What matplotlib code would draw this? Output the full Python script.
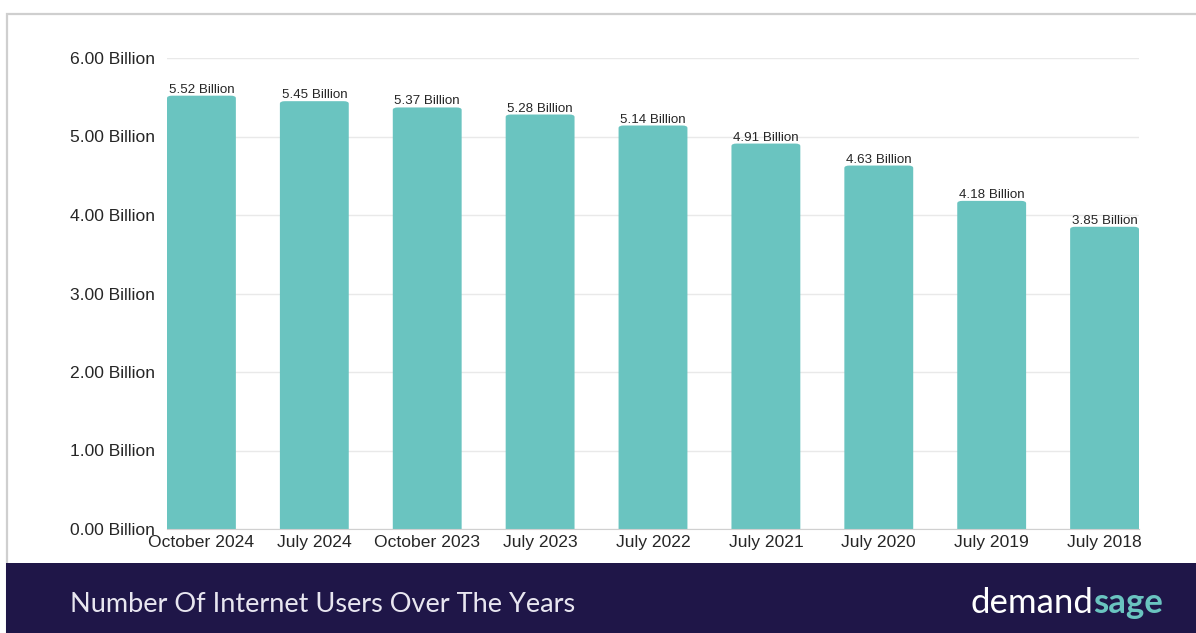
import matplotlib.pyplot as plt
from matplotlib.patches import FancyBboxPatch, Rectangle

periods = [
    "October 2024",
    "July 2024",
    "October 2023",
    "July 2023",
    "July 2022",
    "July 2021",
    "July 2020",
    "July 2019",
    "July 2018",
]
users_bn = [5.52, 5.45, 5.37, 5.28, 5.14, 4.91, 4.63, 4.18, 3.85]
y_ticks = [0, 1, 2, 3, 4, 5, 6]

teal = "#6ac4c0"
navy = "#1f1648"
text_col = "#262626"
font = ["Liberation Sans", "DejaVu Sans"]

plt.rcParams["font.family"] = font

fig = plt.figure(figsize=(11.96, 6.33), dpi=100)
fig.patch.set_facecolor("white")

# light frame and bottom banner
fig.add_artist(Rectangle((7 / 1196, 0), 1.2, (633 - 14) / 633, transform=fig.transFigure,
                         facecolor="none", edgecolor="#cfcfcf", linewidth=1.6))
fig.add_artist(Rectangle((6 / 1196, 0), 1.0, (633 - 563) / 633, transform=fig.transFigure,
                         facecolor=navy, edgecolor="none"))

ax = fig.add_axes([167 / 1196, 104 / 633, 972 / 1196, 471 / 633])
x = list(range(len(periods)))
width = 0.61
bars = ax.bar(x, users_bn, width=width, color=teal, zorder=2)

# swap plain bars for ones with slightly rounded tops
aspect = (471 / 6) / (972 / (len(periods) - 1 + width))
for b in bars:
    b.set_visible(False)
    ax.add_patch(FancyBboxPatch((b.get_x(), -0.2), b.get_width(), b.get_height() + 0.2,
                                boxstyle="round,pad=0,rounding_size=0.045",
                                mutation_aspect=aspect, facecolor=teal,
                                edgecolor="none", zorder=2))

for xi, v in zip(x, users_bn):
    ax.annotate(f"{v:.2f} Billion", (xi, v), xytext=(0, 0), textcoords="offset points",
                ha="center", va="bottom", fontsize=9.6, color=text_col)

ax.set_xlim(-width / 2, len(periods) - 1 + width / 2)
ax.set_ylim(0, 6)
ax.set_yticks(y_ticks)
ax.set_yticklabels([f"{t:.2f} Billion" for t in y_ticks])
ax.set_xticks(x)
ax.set_xticklabels(periods)
ax.tick_params(axis="y", length=0, pad=8.5, labelsize=12.6, labelcolor=text_col)
ax.tick_params(axis="x", length=0, pad=4, labelsize=12.6, labelcolor=text_col)
ax.grid(axis="y", color="#e9e9e9", linewidth=1, zorder=0)
for s in ["top", "right", "left"]:
    ax.spines[s].set_visible(False)
ax.spines["bottom"].set_color("#d0d0d0")
ax.spines["bottom"].set_zorder(3)
ax.set_axisbelow(True)

fig.text(70 / 1196, (633 - 605) / 633, "Number Of Internet Users Over The Years",
         color="#e8e6f0", fontsize=19.5, family=["Lato", "DejaVu Sans"], va="center", ha="left")
fig.text(1093 / 1196, (633 - 603) / 633, "demand", color="white", fontsize=25,
         family=["Lato", "DejaVu Sans"], va="center", ha="right")
fig.text(1093 / 1196, (633 - 603) / 633, "sage", color=teal, fontsize=25, fontweight="bold",
         family=["Lato", "DejaVu Sans"], va="center", ha="left")

fig.savefig("out.png", dpi=100)
